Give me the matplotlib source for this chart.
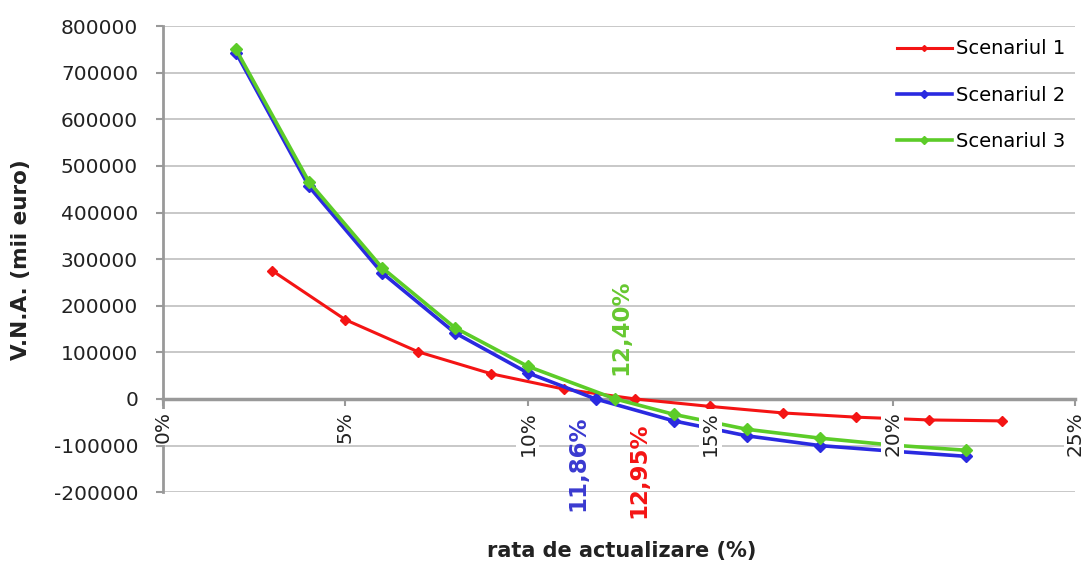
import matplotlib.pyplot as plt

plt.rcParams['font.family'] = ['DejaVu Sans']

# date (rata in %, V.N.A. in mii euro)
rata_s1 = [3, 5, 7, 9, 11, 12.95, 15, 17, 19, 21, 23]
vna_s1 = [275000, 170000, 101000, 54000, 21000, 0, -16000, -30000, -39000, -45000, -47000]

rata_s2 = [2, 4, 6, 8, 10, 11.86, 14, 16, 18, 20, 22]
vna_s2 = [743000, 456000, 271000, 142000, 56000, 0, -47000, -79000, -100000, -112000, -123000]

rata_s3 = [2, 4, 6, 8, 10, 12.40, 14, 16, 18, 20, 22]
vna_s3 = [750000, 466000, 282000, 153000, 70000, 0, -33000, -65000, -84000, -99000, -110000]

nume = ['Scenariul 1', 'Scenariul 2', 'Scenariul 3']
rir = [12.95, 11.86, 12.40]
rir_text = ['12,95%', '11,86%', '12,40%']

x_ticks = [0, 5, 10, 15, 20, 25]
y_ticks = [-200000, -100000, 0, 100000, 200000, 300000, 400000, 500000, 600000, 700000, 800000]

culori = ['#f41414', '#2a2ae0', '#5ccc28']
culori_text = ['#f41414', '#3a3ad0', '#66c830']

fig = plt.figure(figsize=(10.87, 5.69), dpi=100)
ax = fig.add_axes([0.150, 0.135, 0.839, 0.819])

# axa x trece prin 0 (trebuie setat inainte de etichete)
for s in ['top', 'right']:
    ax.spines[s].set_visible(False)
ax.spines['bottom'].set_position(('data', 0))
ax.spines['bottom'].set_color('#999999')
ax.spines['bottom'].set_linewidth(2.5)
ax.spines['left'].set_color('#999999')
ax.spines['left'].set_linewidth(2.0)

ax.plot(rata_s1, vna_s1, color=culori[0], lw=2.2, marker='D', ms=5, label=nume[0], zorder=3)
ax.plot(rata_s2, vna_s2, color=culori[1], lw=2.6, marker='D', ms=6.5, label=nume[1], zorder=3)
ax.plot(rata_s3, vna_s3, color=culori[2], lw=2.6, marker='D', ms=6.5, label=nume[2], zorder=3)

ax.set_xlim(0, 25)
ax.set_ylim(-200000, 800000)
ax.set_yticks(y_ticks)
ax.set_yticklabels([str(v) for v in y_ticks], fontsize=14.5, color='#222222')
ax.set_xticks(x_ticks)
ax.set_xticklabels([])

ax.grid(axis='y', color='#c4c4c4', lw=1.3)
ax.set_axisbelow(True)
ax.tick_params(axis='y', length=5, width=1.5, color='#999999', pad=13)
ax.tick_params(axis='x', length=5, width=1.5, color='#999999')

# etichetele axei x peste linii, cu fundal alb (ca in Excel)
for v in x_ticks:
    ax.annotate(str(v) + '%', xy=(v, 0), xytext=(0, -12), textcoords='offset pixels',
                rotation=90, ha='center', va='top', fontsize=14.5, color='#222222',
                bbox=dict(facecolor='white', edgecolor='none', pad=1.5), zorder=5,
                annotation_clip=False)

# etichete RIR
ax.annotate(rir_text[1], xy=(rir[1], 0), xytext=(-18, -64), textcoords='offset pixels',
            rotation=90, ha='center', va='center', fontsize=16.5, fontweight='bold',
            color=culori_text[1], zorder=6)
ax.annotate(rir_text[0], xy=(rir[0], 0), xytext=(3, -71), textcoords='offset pixels',
            rotation=90, ha='center', va='center', fontsize=16.5, fontweight='bold',
            color=culori_text[0], zorder=6)
ax.annotate(rir_text[2], xy=(rir[2], 0), xytext=(5, 72), textcoords='offset pixels',
            rotation=90, ha='center', va='center', fontsize=16.5, fontweight='bold',
            color=culori_text[2], zorder=6)

ax.set_xlabel('rata de actualizare (%)', fontsize=15, fontweight='bold', color='#222222')
ax.xaxis.set_label_coords(0.503, -0.105)
ax.set_ylabel('V.N.A. (mii euro)', fontsize=15.5, fontweight='bold', color='#222222')
ax.yaxis.set_label_coords(-0.145, 0.5)

ax.legend(loc='upper right', bbox_to_anchor=(1.008, 1.009), frameon=False, fontsize=14,
          handlelength=2.8, labelspacing=1.4, handletextpad=0.2, markerscale=0.6)

plt.savefig('out.png', dpi=100)
